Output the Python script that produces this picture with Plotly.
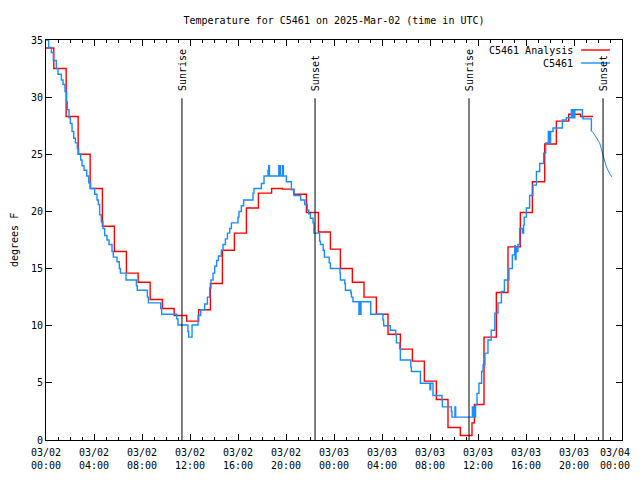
import plotly.graph_objects as go

# ---------------- data (time in hours since 03/02 00:00 UTC) ----------------
red_t = [0, 0.65, 1.68, 2.68, 3.68, 4.7, 5.7, 6.7, 7.68, 8.68, 9.7, 10.68, 11.72, 12.72,
         13.7, 14.7, 15.7, 16.7, 17.7, 18.8, 19.7, 20.65, 21.7, 22.7, 23.7, 24.53, 25.53,
         26.5, 27.53, 28.5, 29.53, 30.53, 31.53, 32.53, 33.5, 34.53, 35.5, 35.7, 36.5,
         37.53, 38.5, 39.53, 40.53, 41.56, 42.53, 43.56, 44.56, 45.58]
red_v = [34.3, 32.5, 28.3, 25.0, 22.0, 18.7, 16.5, 14.6, 13.8, 12.3, 11.5, 10.9, 10.4, 11.4,
         13.7, 16.6, 18.1, 20.3, 21.6, 22.0, 21.95, 21.5, 19.9, 18.2, 16.7, 15.0, 13.8,
         12.5, 11.0, 9.25, 7.95, 6.9, 5.15, 3.55, 1.1, 0.4, 1.5, 3.1, 9.0,
         12.9, 16.9, 19.9, 22.6, 25.9, 27.9, 28.5, 28.3, 28.3]

blue_t = [0, 0.22, 0.45, 0.61, 0.86, 1.0, 1.28, 1.42, 1.58, 1.72, 1.78, 1.92, 2.03, 2.17,
          2.31, 2.45, 2.61, 2.72, 2.89, 3.0, 3.17, 3.39, 3.56, 3.72, 4.06, 4.25, 4.36, 4.47,
          4.61, 4.75, 4.89, 5.08, 5.25, 5.5, 5.61, 5.92, 6.11, 6.2, 6.67, 7.53, 7.61, 8.45,
          8.53, 9.56, 9.64, 10.89, 11.0, 11.83, 11.89, 12.17, 12.67, 12.89, 13.22, 13.45,
          13.64, 13.75, 13.92, 14.06, 14.22, 14.37, 14.61, 14.75, 14.95, 15.12, 15.31, 15.45,
          16.0, 16.08, 16.28, 16.47, 17.25, 17.33, 17.95, 18.17, 18.5, 18.56, 18.62, 19.4,
          19.45, 19.5, 19.55, 19.72, 19.78, 20.03, 20.45, 20.67, 21.22, 21.56, 21.78, 21.89,
          22.03, 22.25, 22.33, 22.8, 22.87, 23.1, 23.2, 23.6, 23.7, 24.5, 24.53, 24.9, 24.95,
          25.4, 25.45, 25.58, 26.08, 26.13, 26.2, 26.25, 27.06, 28.08, 28.14, 28.7, 29.14,
          29.2, 29.47, 29.53, 30.4, 30.45, 31.2, 32.0, 32.06, 32.25, 33.0, 33.03, 33.78,
          33.83, 34.08, 34.14, 35.53, 35.58, 35.67, 35.75, 35.8, 35.92, 36.08, 36.3, 36.42,
          36.58, 36.83, 37.1, 37.4, 37.67, 37.95, 38.2, 38.58, 38.86, 39.06, 39.1, 39.17,
          39.25, 39.33, 39.47, 39.7, 39.8, 39.85, 40.03, 40.3, 40.58, 40.87, 41.14, 41.47,
          41.64, 41.86, 41.9, 41.95, 42.0, 42.05, 42.25, 43.03, 43.36, 43.78, 43.9, 43.95,
          44.02, 44.07, 44.7, 44.75, 45.45, 45.53]
blue_v = [35.0, 34.35, 33.9, 33.2, 32.5, 32.0, 31.5, 31.1, 30.5, 29.6, 28.9, 28.2, 27.7, 27.0,
          26.4, 26.0, 25.5, 25.0, 24.5, 24.0, 23.6, 23.1, 22.5, 22.0, 21.5, 21.0, 20.6, 19.7,
          19.1, 18.5, 17.9, 17.5, 17.1, 16.5, 16.0, 15.6, 15.0, 14.6, 14.0, 13.5, 13.1, 12.5,
          12.0, 11.5, 11.0, 10.6, 10.06, 9.5, 9.0, 10.06, 10.9, 11.4, 11.9, 12.5,
          13.3, 14.0, 14.6, 15.2, 15.7, 16.1, 16.6, 17.1, 17.6, 18.1, 18.5, 19.0,
          19.5, 20.0, 20.5, 21.0, 21.6, 22.0, 22.45, 23.1, 23.6, 24.0, 23.1, 24.0,
          23.1, 24.0, 23.1, 24.0, 23.1, 22.6, 21.9, 21.4, 21.0, 20.6, 20.1, 19.8,
          19.4, 19.0, 18.1, 17.4, 17.1, 16.6, 16.0, 15.5, 15.0, 14.6, 14.0, 13.7, 13.1,
          12.9, 12.5, 12.1, 11.0, 12.1, 11.0, 12.1, 11.0, 10.5, 10.0, 9.6, 9.2,
          8.5, 8.0, 7.0, 6.4, 6.0, 4.96, 4.4, 4.96, 3.9, 3.5, 2.9, 2.5,
          2.0, 2.9, 2.0, 2.9, 2.0, 2.9, 2.0, 3.06, 4.08, 4.96, 6.0,
          6.56, 7.6, 8.75, 9.6, 11.1, 12.0, 13.0, 14.0, 15.0, 16.2, 17.0, 15.8,
          16.8, 16.5, 17.1, 18.5, 18.1, 18.8, 19.5, 20.3, 21.4, 22.3, 23.5, 24.2,
          25.1, 26.0, 27.0, 26.0, 27.0, 26.0, 27.0, 27.3, 28.0, 28.2, 28.9, 28.2,
          28.9, 28.2, 28.9, 28.2, 28.1, 27.0]

tail_t = [45.53, 45.86, 46.14, 46.42, 46.7, 46.97, 47.17]
tail_v = [27.0, 26.5, 26.0, 24.9, 23.9, 23.3, 23.0]

sun_names = ["Sunrise", "Sunset", "Sunrise", "Sunset"]
sun_times = [11.33, 22.42, 35.25, 46.42]

tick_hours = [0, 4, 8, 12, 16, 20, 24, 28, 32, 36, 40, 44, 48]
tick_text = ["03/02<br>00:00", "03/02<br>04:00", "03/02<br>08:00", "03/02<br>12:00",
             "03/02<br>16:00", "03/02<br>20:00", "03/03<br>00:00", "03/03<br>04:00",
             "03/03<br>08:00", "03/03<br>12:00", "03/03<br>16:00", "03/03<br>20:00",
             "03/04<br>00:00"]

RED = "#ff0000"
BLUE = "#1a8cff"
FONT = "DejaVu Sans Mono"

# The page body has an 8px margin, so the figure is sized/offset to compensate.
W, H = 632, 472

fig = go.Figure()
fig.add_trace(go.Scatter(x=red_t, y=red_v, mode="lines", line=dict(color=RED, width=1.4, shape="hv"),
                         name="C5461 Analysis", showlegend=False))
fig.add_trace(go.Scatter(x=blue_t, y=blue_v, mode="lines", line=dict(color=BLUE, width=1.4, shape="hv"),
                         name="C5461", showlegend=False))
fig.add_trace(go.Scatter(x=tail_t, y=tail_v, mode="lines", line=dict(color=BLUE, width=1.0),
                         name="C5461", showlegend=False))

shapes = []
annotations = []
for name, t in zip(sun_names, sun_times):
    shapes.append(dict(type="line", xref="x", yref="y", x0=t, x1=t, y0=0, y1=29.9,
                       line=dict(color="black", width=1)))
    annotations.append(dict(x=t, y=30.35, xref="x", yref="y", text=name, showarrow=False,
                            textangle=-90, xanchor="center", yanchor="bottom",
                            font=dict(family=FONT, size=10, color="black")))

# manual gnuplot-style legend (text then sample line)
leg = [("C5461 Analysis", RED, 0.975), ("C5461", BLUE, 0.9425)]
for label, col, yp in leg:
    annotations.append(dict(x=0.918, y=yp, xref="paper", yref="paper", text=label, showarrow=False,
                            xanchor="right", yanchor="middle",
                            font=dict(family=FONT, size=10, color="black")))
    shapes.append(dict(type="line", xref="paper", yref="paper", x0=0.929, x1=0.979, y0=yp, y1=yp,
                       line=dict(color=col, width=1.4)))

annotations.append(dict(x=-0.0555, y=0.5, xref="paper", yref="paper", text="degrees F",
                        showarrow=False, textangle=-90, xanchor="center", yanchor="middle",
                        font=dict(family=FONT, size=10, color="black")))

# last tick label drawn as an annotation, right-aligned so it stays inside the visible page
axis_ticktext = tick_text[:-1] + [""]
annotations.append(dict(x=tick_hours[-1], y=0, xref="x", yref="paper", text=tick_text[-1],
                        showarrow=False, xanchor="right", yanchor="top", xshift=10, yshift=-5,
                        align="center", font=dict(family=FONT, size=10, color="black")))

fig.update_layout(
    width=W, height=H,
    margin=dict(l=38, r=18, t=32, b=40, autoexpand=False),
    paper_bgcolor="white", plot_bgcolor="white",
    font=dict(family=FONT, size=10, color="black"),
    title=dict(text="Temperature for C5461 on 2025-Mar-02 (time in UTC)", x=0.5, xref="paper",
               y=1 - 12 / H, yref="container", xanchor="center", yanchor="middle",
               font=dict(family=FONT, size=10, color="black")),
    shapes=shapes, annotations=annotations, showlegend=False,
)
fig.update_xaxes(range=[0, 48], tickmode="array", tickvals=tick_hours, ticktext=axis_ticktext,
                 ticks="inside", ticklen=6, tickcolor="black", showline=True, linecolor="black",
                 linewidth=1, mirror="allticks", showgrid=False, zeroline=False, automargin=False,
                 ticklabelstandoff=3,
                 minor=dict(tickmode="linear", tick0=0, dtick=1, ticks="inside", ticklen=3,
                            tickcolor="black", showgrid=False),
                 tickfont=dict(family=FONT, size=10))
fig.update_yaxes(range=[0, 35], tickmode="linear", tick0=0, dtick=5, ticks="inside", ticklen=6,
                 tickcolor="black", showline=True, linecolor="black", linewidth=1, automargin=False,
                 mirror="allticks", showgrid=False, zeroline=False,
                 tickfont=dict(family=FONT, size=10))

fig.write_html("out.html")
